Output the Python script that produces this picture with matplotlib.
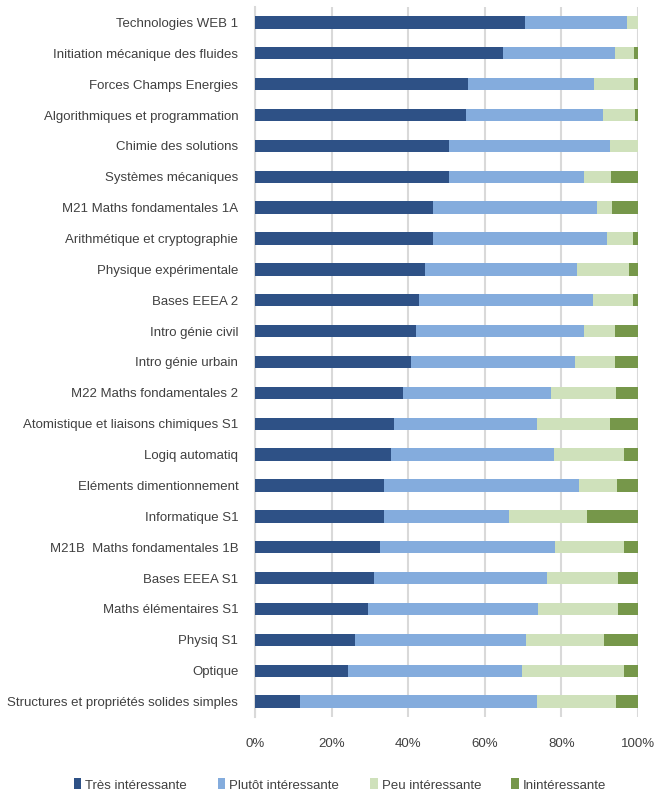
import matplotlib
matplotlib.use("Agg")
import matplotlib.pyplot as plt
import numpy as np

categories = [
    "Technologies WEB 1",
    "Initiation mécanique des fluides",
    "Forces Champs Energies",
    "Algorithmiques et programmation",
    "Chimie des solutions",
    "Systèmes mécaniques",
    "M21 Maths fondamentales 1A",
    "Arithmétique et cryptographie",
    "Physique expérimentale",
    "Bases EEEA 2",
    "Intro génie civil",
    "Intro génie urbain",
    "M22 Maths fondamentales 2",
    "Atomistique et liaisons chimiques S1",
    "Logiq automatiq",
    "Eléments dimentionnement",
    "Informatique S1",
    "M21B  Maths fondamentales 1B",
    "Bases EEEA S1",
    "Maths élémentaires S1",
    "Physiq S1",
    "Optique",
    "Structures et propriétés solides simples",
]
tres = [70.6, 64.8, 55.7, 55.0, 50.7, 50.7, 46.6, 46.6, 44.4, 42.9, 42.1, 40.8,
        38.7, 36.4, 35.4, 33.8, 33.8, 32.7, 31.1, 29.6, 26.0, 24.4, 11.8]
plutot = [26.6, 29.3, 32.9, 35.9, 42.1, 35.3, 42.8, 45.2, 39.6, 45.4, 43.9, 42.8,
          38.6, 37.2, 42.7, 50.7, 32.4, 45.7, 45.2, 44.2, 44.8, 45.2, 61.7]
peu = [2.8, 4.8, 10.3, 8.3, 7.2, 7.0, 3.9, 7.0, 13.6, 10.5, 8.1, 10.4,
       16.9, 19.0, 18.3, 10.0, 20.6, 17.9, 18.6, 21.1, 20.3, 26.8, 20.8]
inint = [0.0, 1.1, 1.1, 0.8, 0.0, 7.0, 6.7, 1.2, 2.4, 1.2, 5.9, 6.0,
         5.8, 7.4, 3.6, 5.5, 13.2, 3.7, 5.1, 5.1, 8.9, 3.6, 5.7]
series_names = ["Très intéressante", "Plutôt intéressante", "Peu intéressante", "Inintéressante"]
colors = ["#2E5186", "#84ACDD", "#CFE1BB", "#76974A"]
xticklabels = ["0%", "20%", "40%", "60%", "80%", "100%"]

plt.rcParams['font.family'] = ['Liberation Sans', 'DejaVu Sans']
text_color = "#404040"
fs = 9.5

fig = plt.figure(figsize=6.54 * np.array([1, 793 / 654]), dpi=100)
ax = fig.add_axes([255 / 654, 1 - 717 / 793, (638 - 255) / 654, (717 - 7) / 793])

y = np.arange(len(categories))
data = [tres, plutot, peu, inint]
left = np.zeros(len(categories))
for vals, name, c in zip(data, series_names, colors):
    vals = np.array(vals)
    ax.barh(y, vals, left=left, height=0.4, color=c, label=name, zorder=3)
    left = left + vals

ax.set_xlim(0, 100)
ax.set_ylim(len(categories) - 0.5, -0.5)
ax.set_yticks(y)
ax.set_yticklabels(categories, fontsize=fs, color=text_color)
ax.set_xticks([0, 20, 40, 60, 80, 100])
ax.set_xticklabels(xticklabels, fontsize=fs, color=text_color)
ax.tick_params(axis='both', length=0)
ax.tick_params(axis='x', pad=15)
ax.tick_params(axis='y', pad=12)
ax.grid(axis='x', color="#D9D9D9", linewidth=1.5, zorder=0)
for s in ["top", "right", "bottom"]:
    ax.spines[s].set_visible(False)
ax.spines["left"].set_color("#D9D9D9")
ax.spines["left"].set_linewidth(1.5)

handles, labels = ax.get_legend_handles_labels()
fig.legend(handles, labels, loc='center', bbox_to_anchor=(0.52, 1 - 785 / 793),
           ncol=4, frameon=False, fontsize=fs, handlelength=0.6, handleheight=0.9,
           handletextpad=0.3, columnspacing=2.3, labelcolor=text_color)

fig.savefig("out.png", dpi=100)
